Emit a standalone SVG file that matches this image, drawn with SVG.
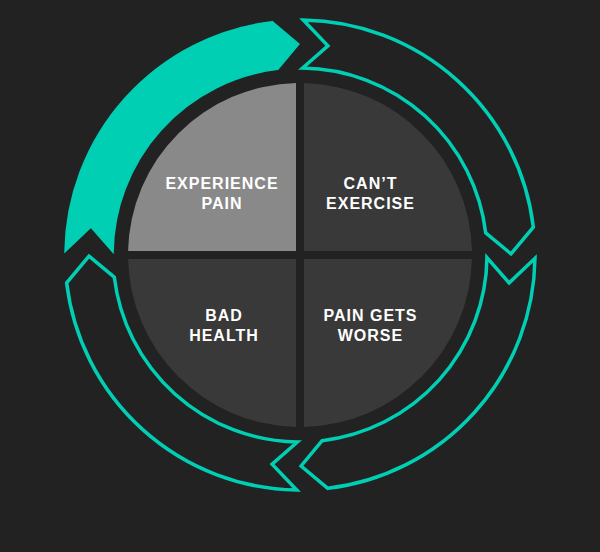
<svg xmlns="http://www.w3.org/2000/svg" width="600" height="552" viewBox="0 0 600 552">
  <style>
    .q-light { fill: #898989; }
    .q-dark { fill: #393939; }
    .lbl { font-family: "Liberation Sans", Arial, sans-serif; font-weight: bold; font-size: 16px; fill: #ffffff; text-anchor: middle; letter-spacing: 1px; }
    .arrow-fill { fill: #00cfb4; stroke: #00cfb4; stroke-width: 1.5; stroke-linejoin: miter; }
    .arrow-line { fill: none; stroke: #00cfb4; stroke-width: 3.5; stroke-linejoin: miter; stroke-miterlimit: 10; }
  </style>
  <rect width="600" height="552" fill="#222222"/>

  <g id="connectors">
    <path id="arrow-top-left" class="arrow-fill" d="M65.02,251.72 A235,235 0 0 1 272.18,21.65 L298.90,44.00 L277.86,69.32 A187,187 0 0 0 113.02,252.39 L90.85,227.09 Z"/>
    <path id="arrow-top-right" class="arrow-line" d="M303.28,20.02 A235,235 0 0 1 533.35,227.18 L511.00,253.90 L485.69,232.86 A187,187 0 0 0 302.61,68.02 L327.91,45.85 Z"/>
    <path id="arrow-bottom-right" class="arrow-line" d="M534.98,258.28 A235,235 0 0 1 327.82,488.35 L301.10,466.00 L322.14,440.69 A187,187 0 0 0 486.98,257.61 L509.15,282.91 Z"/>
    <path id="arrow-bottom-left" class="arrow-line" d="M296.72,489.98 A235,235 0 0 1 66.65,282.82 L89.00,256.10 L114.31,277.14 A187,187 0 0 0 297.39,441.98 L272.09,464.15 Z"/>
  </g>

  <g id="node-experience-pain">
    <path class="q-light" d="M296,251 L296,83.05 A172,172 0 0 0 128.05,251 Z"/>
    <text class="lbl" x="222" y="188.5">EXPERIENCE</text>
    <text class="lbl" x="222" y="208.5">PAIN</text>
  </g>
  <g id="node-cant-exercise">
    <path class="q-dark" d="M304,251 L304,83.05 A172,172 0 0 1 471.95,251 Z"/>
    <text class="lbl" x="370.5" y="188.5">CAN’T</text>
    <text class="lbl" x="370.5" y="208.5">EXERCISE</text>
  </g>
  <g id="node-pain-gets-worse">
    <path class="q-dark" d="M304,259 L304,426.95 A172,172 0 0 0 471.95,259 Z"/>
    <text class="lbl" x="370.5" y="321">PAIN GETS</text>
    <text class="lbl" x="370.5" y="341">WORSE</text>
  </g>
  <g id="node-bad-health">
    <path class="q-dark" d="M296,259 L296,426.95 A172,172 0 0 1 128.05,259 Z"/>
    <text class="lbl" x="224" y="321">BAD</text>
    <text class="lbl" x="224" y="341">HEALTH</text>
  </g>
</svg>
